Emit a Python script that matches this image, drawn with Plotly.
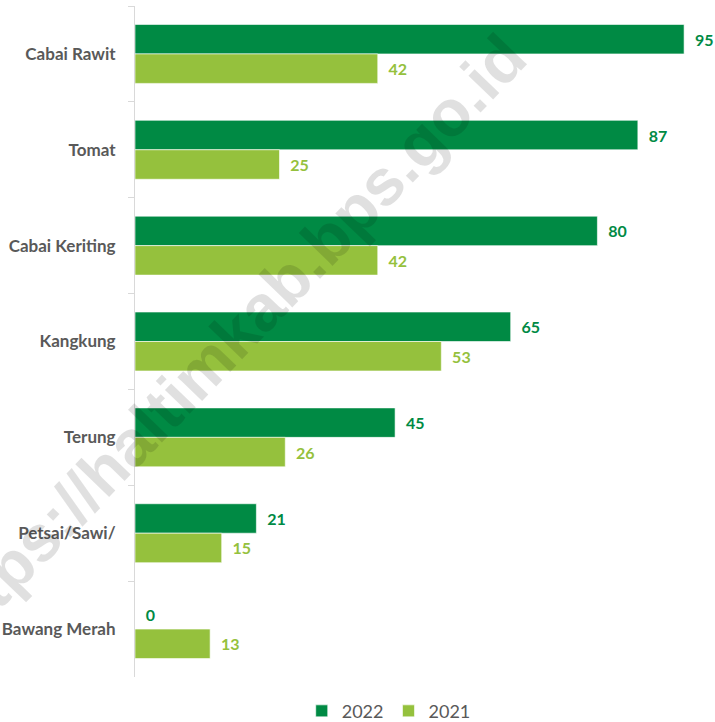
import plotly.graph_objects as go

categories = ["Cabai Rawit", "Tomat", "Cabai Keriting", "Kangkung", "Terung", "Petsai/Sawi/", "Bawang Merah"]
values_2022 = [95, 87, 80, 65, 45, 21, 0]
values_2021 = [42, 25, 42, 53, 26, 15, 13]

DARK = "#008A44"
LIGHT = "#95C13D"
PAD = "\u00a0\u00a0"

W, H = 715, 722
ML, MR, MT, MB = 135, 2, 6, 45

fig = go.Figure()
fig.add_trace(go.Bar(
    y=categories, x=values_2022, name="2022", orientation="h",
    marker=dict(color=DARK, line=dict(color="white", width=0.6)),
    text=[PAD + str(v) for v in values_2022], textposition="outside",
    textfont=dict(color=DARK, size=16, family="Lato", weight="bold"),
    cliponaxis=False,
))
fig.add_trace(go.Bar(
    y=categories, x=values_2021, name="2021", orientation="h",
    marker=dict(color=LIGHT, line=dict(color="white", width=0.6)),
    text=[PAD + str(v) for v in values_2021], textposition="outside",
    textfont=dict(color=LIGHT, size=16, family="Lato", weight="bold"),
    cliponaxis=False,
))

pw = W - ML - MR
ph = H - MT - MB
wx, wy = 226, 343
fig.add_annotation(
    text="https://haltimkab.bps.go.id", xref="paper", yref="paper",
    x=(wx - ML) / pw, y=(H - MB - wy) / ph, xanchor="center", yanchor="middle",
    showarrow=False, textangle=-46,
    font=dict(family="Liberation Sans", size=65, color="rgba(0,0,0,0.12)", weight="bold"),
)

fig.update_layout(
    width=W, height=H,
    margin=dict(l=ML, r=MR, t=MT, b=MB),
    paper_bgcolor="white", plot_bgcolor="white",
    barmode="group", bargap=0.385, bargroupgap=0,
    showlegend=True,
    legend=dict(orientation="h", xref="container", yref="container", x=0.422, y=0.015,
                xanchor="left", yanchor="middle",
                font=dict(family="Lato", size=18, color="#595959")),
    xaxis=dict(range=[0, 100], showgrid=False, showticklabels=False, zeroline=False,
               showline=False, ticks=""),
    yaxis=dict(autorange="reversed", showline=True, linecolor="#d9d9d9", linewidth=1,
               ticks="outside", tickson="boundaries", ticklen=6, tickcolor="#d9d9d9",
               tickfont=dict(family="Lato", size=17, color="#595959", weight="bold"),
               ticklabelstandoff=15, showgrid=False),
)

fig.write_html("out.html")
